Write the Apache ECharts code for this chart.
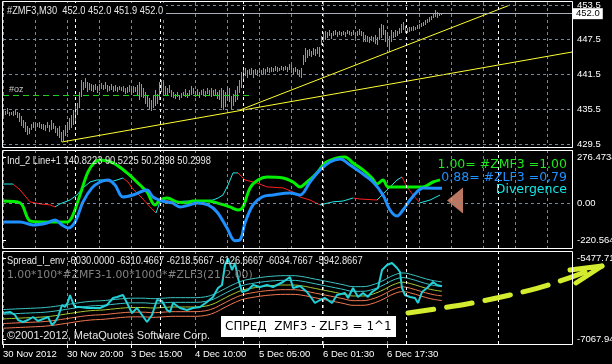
<!DOCTYPE html>
<html><head><meta charset="utf-8">
<script src="https://cdn.jsdelivr.net/npm/echarts@6/dist/echarts.min.js"></script>
<style>html,body{margin:0;padding:0;background:#000;}#c{width:612px;height:364px;}</style>
</head><body><div id="c"></div>
<script>
// ================= DATA =================
const timeLabels = ["30 Nov 2012","30 Nov 20:00","3 Dec 15:00","4 Dec 10:00","5 Dec 05:00","6 Dec 01:30","6 Dec 17:30"];
const timeLabelPos = [0,32,64,96,128,160,192];          // bar index of each time label
const daySeparators = [36,78.5,120,159.5,201.5,247.5];  // bar index of period separators

// main panel (#ZMF3, M30) – high / low per bar
const barHigh = [
435.2,435.2,435.7,435.0,435.0,435.2,435.4,435.0,434.9,434.3,
433.6,433.3,432.6,432.3,433.0,433.3,433.0,433.1,433.3,433.0,
433.0,432.8,433.3,432.8,433.6,433.1,432.6,432.3,432.6,431.6,
431.9,432.8,433.3,434.0,434.5,435.4,436.2,436.6,438.5,440.6,
440.2,440.9,440.2,440.0,439.9,439.7,439.9,439.5,439.9,440.0,
439.7,440.2,439.7,439.5,439.9,439.5,439.7,439.3,439.5,439.3,
439.5,439.2,439.3,439.7,439.2,439.5,439.3,439.7,440.2,439.9,
439.2,438.5,438.0,437.4,437.1,438.0,438.8,438.1,440.2,440.6,
440.2,439.5,439.2,439.7,438.8,438.5,438.1,438.5,438.0,438.3,
438.5,439.0,438.3,438.8,439.5,439.2,438.7,439.0,438.5,438.8,
439.0,438.7,439.2,438.8,439.2,438.8,439.0,438.5,438.8,439.2,
438.8,438.5,439.3,439.2,437.8,438.1,438.8,439.5,440.6,441.9,
442.5,442.6,442.3,442.5,442.6,442.3,442.5,442.3,442.6,442.3,
442.6,442.5,442.8,442.6,442.8,442.6,443.0,442.8,442.6,443.0,
442.8,443.0,442.8,443.3,443.1,442.6,442.8,442.5,442.3,442.6,
444.9,446.1,445.7,445.9,445.6,446.1,445.9,446.3,446.3,448.2,
448.7,449.0,448.8,449.2,448.7,449.0,449.2,448.8,449.0,448.8,
449.0,448.8,449.2,449.0,448.8,449.2,448.7,449.0,449.4,449.0,
448.8,448.3,448.2,448.0,448.2,448.0,448.3,448.0,449.5,450.2,
450.0,449.2,448.8,448.1,449.2,448.8,449.2,449.0,449.5,450.2,
450.6,449.9,449.5,449.7,449.7,449.9,449.7,450.1,450.2,450.4,
450.6,450.9,451.1,451.4,451.6,452.1,452.6,452.3,452.2,452.0];
const barLow = [
434.4,434.5,434.7,434.3,434.5,434.4,434.5,434.0,433.3,432.6,
432.3,431.6,431.1,431.2,431.9,432.3,431.7,432.5,432.3,432.1,
431.9,431.7,432.3,431.6,431.9,432.1,431.4,430.9,430.5,429.85,
430.0,430.9,431.4,431.9,432.3,432.8,433.3,434.5,435.7,437.6,
438.8,439.2,438.5,438.8,438.7,438.5,438.8,438.3,438.7,439.0,
438.8,439.0,438.5,438.7,438.8,438.5,438.7,438.5,438.8,438.7,
438.5,438.1,438.3,438.5,438.0,438.3,438.5,437.8,437.1,437.6,
437.4,436.4,435.9,435.4,435.2,435.7,436.1,436.4,437.1,438.5,
438.3,438.0,437.8,438.3,437.6,437.4,437.3,437.6,437.1,437.4,
437.8,437.6,437.4,437.8,438.0,438.1,437.6,437.8,437.4,438.0,
437.8,437.6,438.1,437.8,437.6,438.0,437.8,437.3,437.1,435.7,
435.4,435.9,437.1,436.8,435.4,436.1,436.8,437.1,438.3,439.2,
440.6,441.2,440.9,441.6,441.4,440.9,441.6,441.2,441.8,441.4,
441.6,441.4,442.0,441.8,442.0,442.0,442.1,442.0,442.1,442.3,
442.1,442.3,442.0,442.3,441.8,441.4,442.0,441.6,441.1,440.9,
443.1,443.6,444.35,444.7,444.5,444.9,444.7,445.0,444.5,446.6,
447.1,447.5,447.8,448.2,447.6,448.2,448.3,448.0,448.3,448.2,
448.3,448.0,448.5,448.3,448.2,448.3,447.8,448.2,448.3,448.2,
447.1,447.1,447.1,446.9,447.3,447.1,446.8,446.6,447.5,447.8,
448.3,447.1,446.3,445.4,447.1,447.8,448.0,448.2,448.5,448.7,
449.2,448.7,448.7,448.8,449.0,449.0,449.2,449.4,449.5,449.7,
449.9,450.1,450.4,450.6,450.9,451.3,451.4,451.3,451.6,451.9];
const priceTicks = [429.5,435.5,441.5,447.5,453.5];
const bidPrice = 452.0;
const trendA = [[118.5,435.37],[253.5,453.5]];
const trendB = [[29.5,429.85],[284.5,445.38]];
const greenDash = [[0,437.96],[124.5,437.96]];

// panel 2 (Ind_2)
const greenX = [0,8.5,13.5,18.5,23.5,32,34.5,38.5,42.5,46,48.5,55,62,68.5,72,76,78.5,82,87,92,95,102,107,113.5,117.5,120,123.5,127.5,132,140,145,148.5,152,157,161,167,171,175,180,184.5,187,190,192.5,197,202,210,215,218.5];
const greenV = [15,4,-103,-109,-109,-109,-80,51,188,247,259,241,182,110,69,-8,21,33,10,4,15,15,4,-20,-38,-20,93,140,158,152,128,99,128,182,241,271,276.47,241,200,152,116,140,99,99,99,99,128,140.82];
const blueX = [0,8.5,15,22,26,29.5,32.5,36,40,44.5,48.5,52.5,56,60,65,72,75,79.5,84.5,88.5,93.5,97,102.5,107,112,116,118.5,121,125,129.5,135,143.5,148.5,153.5,158.5,163.5,168.5,173.5,178.5,185,190,193.5,197,200,203.5,207,210,219.5];
const blueV = [-109,-109,-127,-115,-97,-127,-145,-109,10,93,128,140,110,39,51,81,39,15,4,-20,-8,4,-8,-50,-145,-220.56,-216,-115,-8,39,51,63,51,128,200,247,265,229,188,128,51,-38,-74,-38,21,69,93,90.52];
const divX = [0,5,8.5,13.5,18.5,23.5,26,28.5,33.5,37,40,43.5,47,50,53.5,57,60,62.5,64.5,69.5,73.5,76.5,78.5,81,85,92,98.5,105,107.5,110,112.5,115,117.5,121,127,132,140,145,148.5,153.5,158.5,165,170,175,178.5,187,192,197,199.5,202,205,208.5,213.5,218.5];
const divV = [116,116,81,10,-2,-8,-20,-2,21,51,93,128,140,140,128,140,152,128,93,33,-20,-56,10,21,10,15,15,21,33,51,110,182,182,140,122,99,93,69,39,21,-8,10,15,33,27,21,81,140,158,99,51,4,21,50.30];
const p2Ticks = [276.4734,0,-220.5643];
const pairLabels = ["1.00= #ZMF3 =1.00","0.88= #ZLF3 =0,79","Divergence"];
const arrowMark = [[226,18]];

// panel 3 (Spread_I_env)
const spreadX = [0,3.5,6,7.5,10,12.5,15,17.5,20,22.5,24.5,26,27.5,29.5,31,32.5,33.5,35,36,38.5,42,45,48.5,52,55,57,60,62,64.5,67,69.5,72,74.5,77,79.5,82,83.5,85,88.5,92,95,98.5,102,105,107.5,109.5,111,112.5,114.5,116,117.5,119.5,122.5,125,128.5,132,135,140,143.5,145,148.5,152,156,158.5,161,164.5,167,171,172.5,175,177.5,180,182.5,184.5,187.5,189.5,192,194.5,197,198.5,199.5,201,203.5,206,207.5,209.5,212,215,217,219.5];
const spreadV = [-6555,-6535,-6595,-6693,-6733,-6693,-6634,-6713,-6674,-6634,-6792,-6733,-6634,-6398,-6437,-6339,-6201,-6358,-6437,-6437,-6457,-6457,-6457,-6398,-6260,-6240,-6201,-6358,-6555,-6457,-6595,-6733,-6595,-6299,-6319,-6496,-6535,-6358,-6457,-6496,-6457,-6437,-6339,-6240,-6063,-6004,-5610,-5477.71,-5708,-5570,-5866,-6141,-6102,-6004,-6043,-6004,-6043,-5945,-5846,-6063,-6024,-6141,-6358,-6299,-6260,-6358,-6201,-6161,-6260,-6063,-6240,-6161,-6240,-6141,-6063,-5708,-5610,-5570,-5669,-5748,-6063,-6201,-6240,-6260,-6358,-6141,-6063,-5945,-6004,-6030];
const envX = [0,5,10,15,20,25,30,35,40,45,50,55,60,65,70,75,80,85,90,95,100,105,110,115,120,125,130,135,140,145,150,155,160,165,170,175,180,185,190,195,200,205,210,215,219.5];
const envMid = [-6672,-6662,-6653,-6644,-6634,-6614,-6585,-6555,-6526,-6506,-6496,-6476,-6457,-6447,-6447,-6457,-6447,-6437,-6437,-6437,-6427,-6378,-6280,-6181,-6102,-6063,-6033,-6014,-6004,-6004,-6024,-6063,-6102,-6141,-6181,-6220,-6220,-6181,-6102,-6000,-5950,-5990,-6050,-6100,-6126.67];
const envOffsets = [183.8,91.9,0,-91.9,-183.8];
const envColors = ['#3cc4c4','#3cc4c4','#a8c832','#f07850','#f07850'];
const p3Ticks = [-5477.71,-7067.94];
const annotArrow = [[202.5,-6555],[232,-6378],[253.5,-6201],[272.5,-6004],[299.5,-5630]];
const annotHead = [[283.5,-5708],[299.5,-5630],[286.5,-5964]];

// ================= CHART =================
const SANS = "'Liberation Sans',Arial,sans-serif";
const DV = "'DejaVu Sans',sans-serif";
const GRIDC = '#778899';
const chart = echarts.init(document.getElementById('c'), null, {renderer:'canvas'});

const gridDefs = [
  {left:3, right:40, top:2, height:146},
  {left:3, right:40, top:150, height:98},
  {left:3, right:40, top:251, height:93}
];
const xAxes = gridDefs.map((g,i)=>({
  type:'value', gridIndex:i, min:0, max:284.5, interval:16,
  axisLine:{show:false},
  axisTick: i===2 ? {show:true, customValues:timeLabelPos, length:4, lineStyle:{color:'#fff'}} : {show:false},
  axisLabel: i===2 ? {show:true, customValues:timeLabelPos, color:'#fff', fontFamily:SANS, fontSize:9.5, align:'left', margin:5,
     formatter:(v)=>{const k=timeLabelPos.indexOf(v); return k>=0?timeLabels[k]:'';}} : {show:false},
  splitLine:{show:true, lineStyle:{color:GRIDC, type:[3,3], width:1}}
}));
const yLab = {color:'#fff', fontFamily:SANS, fontSize:9.5, margin:5};
const yAxes = [
  {type:'value', gridIndex:0, position:'right', min:428.809, max:454.018, scale:true,
   axisLine:{show:false}, splitLine:{show:false},
   axisTick:{show:true, customValues:priceTicks, length:3, lineStyle:{color:'#fff'}},
   axisLabel:Object.assign({customValues:priceTicks, formatter:v=>v.toFixed(1)}, yLab)},
  {type:'value', gridIndex:1, position:'right', min:-263.9, max:318.04, scale:true,
   axisLine:{show:false}, splitLine:{show:false},
   axisTick:{show:true, customValues:p2Ticks, length:3, lineStyle:{color:'#fff'}},
   axisLabel:Object.assign({customValues:p2Ticks, formatter:v=>v===0?'0.00':v.toFixed(4)}, yLab)},
  {type:'value', gridIndex:2, position:'right', min:-7166.0, max:-5333.9, scale:true,
   axisLine:{show:false}, splitLine:{show:false},
   axisTick:{show:true, customValues:p3Ticks, length:3, lineStyle:{color:'#fff'}},
   axisLabel:Object.assign({customValues:p3Ticks, formatter:v=>v.toFixed(4)}, yLab)}
];

const sepLines = daySeparators.map(v=>({xAxis:v, lineStyle:{color:'#fff', type:[3,3], width:1}}));
const mlBase = {silent:true, symbol:'none', animation:false, label:{show:false}};

const series = [];
// bars
series.push({
  type:'custom', xAxisIndex:0, yAxisIndex:0, clip:true, animation:false,
  itemStyle:{color:'#00ff00'},
  data: barLow.map((lo,i)=>[i, lo, barHigh[i]]),
  renderItem:(params, api)=>{
    const a = api.coord([api.value(0), api.value(1)]);
    const b = api.coord([api.value(0), api.value(2)]);
    const x = Math.round(a[0]);
    const yT = Math.round(b[1]), yB = Math.round(a[1]);
    return {type:'rect', shape:{x:x, y:yT, width:1, height:Math.max(1, yB-yT)}, style:{fill:'#00ff00', stroke:null}};
  }
});
series.push({
  type:'line', xAxisIndex:0, yAxisIndex:0, data:trendA, symbol:'none', animation:false,
  lineStyle:{color:'#ffff30', width:1},
  markLine: Object.assign({}, mlBase, {data: [
    ...priceTicks.map(v=>({yAxis:v, lineStyle:{color:GRIDC, type:[3,3], width:1}})),
    ...sepLines,
    {yAxis:bidPrice, lineStyle:{color:'#a8b0bc', type:'solid', width:1},
     label:{show:true, position:'end', distance:1, formatter:'452.0', backgroundColor:'#fff', color:'#000',
            fontFamily:SANS, fontSize:9.5, padding:[1,3,0,3]}},
    [{coord:greenDash[0], lineStyle:{color:'#22cc22', type:[6,4], width:1}}, {coord:greenDash[1]}]
  ]})
});
series.push({type:'line', xAxisIndex:0, yAxisIndex:0, data:trendB, symbol:'none', animation:false, lineStyle:{color:'#ffff30', width:1}});

// panel 2
series.push({
  type:'line', xAxisIndex:1, yAxisIndex:1, data:greenX.map((x,k)=>[x,greenV[k]]), symbol:'none', smooth:0.35, animation:false,
  lineStyle:{color:'#00f000', width:3},
  markLine:Object.assign({}, mlBase, {data:[{yAxis:0, lineStyle:{color:GRIDC, type:[3,3], width:1}}, ...sepLines]})
});
series.push({
  type:'line', xAxisIndex:1, yAxisIndex:1, data:blueX.map((x,k)=>[x,blueV[k]]), symbol:'none', smooth:0.35, animation:false,
  lineStyle:{color:'#1e90ff', width:3}
});
series.push({
  type:'custom', xAxisIndex:1, yAxisIndex:1, clip:true, animation:false,
  data: divX.slice(0,-1).map((x,k)=>[x, divV[k], divX[k+1], divV[k+1]]),
  renderItem:(params, api)=>{
    const a = api.coord([api.value(0), api.value(1)]);
    const b = api.coord([api.value(2), api.value(3)]);
    const up = api.value(3) >= api.value(1);
    return {type:'line', shape:{x1:a[0], y1:a[1], x2:b[0], y2:b[1]}, style:{stroke: up ? '#20e8e8' : '#ff2020', lineWidth:1}};
  }
});
series.push({
  type:'scatter', xAxisIndex:1, yAxisIndex:1, data:arrowMark, symbol:'triangle', symbolSize:[26,16], symbolRotate:90,
  itemStyle:{color:'#e9967a'}, animation:false, silent:true
});

// panel 3
envOffsets.forEach((off,j)=>{
  series.push({
    type:'line', xAxisIndex:2, yAxisIndex:2, data:envX.map((x,k)=>[x, envMid[k]+off]), symbol:'none', smooth:0.4, animation:false,
    lineStyle:{color:envColors[j], width:1}
  });
});
series.push({
  type:'line', xAxisIndex:2, yAxisIndex:2, data:spreadX.map((x,k)=>[x,spreadV[k]]), symbol:'none', animation:false,
  lineStyle:{color:'#22d0d8', width:2},
  markLine:Object.assign({}, mlBase, {data:[...sepLines]})
});

const txt = (id, text, x, y, color, font, align, sx) => ({
  id:id, type:'text', silent:true, z:20, x:x, y:y, scaleX: sx||1,
  style:{text:text, x:0, y:0, fill:color, font:font, textAlign:align||'left', textVerticalAlign:'middle'}
});
const NS = 0.845;
const border = (id, y0, y1) => ({id:id, type:'rect', silent:true, z:18,
  shape:{x:2.5, y:y0+0.5, width:570, height:y1-y0}, style:{fill:null, stroke:'#fff', lineWidth:1}});
const graphics = [
  border('b1', 1, 147), border('b2', 150, 248), border('b3', 251, 344),
  {id:'hdrbg', type:'rect', shape:{x:4, y:3, width:162, height:14}, style:{fill:'#000'}, z:19, silent:true},
  txt('t1','#ZMF3,M30  452.0 452.0 451.9 452.0', 7, 10.5, '#e6e6e6', "11px "+SANS, 'left', NS),
  txt('t0','#oz', 9, 90, '#c8c8c8', "9px "+SANS, 'left'),
  txt('t2','Ind_2 Line+1 140.8223 90.5225 50.2998 50.2998', 7, 161, '#e6e6e6', "11px "+SANS, 'left', NS),
  txt('t3',pairLabels[0], 567, 164.5, '#1ee81e', "12.5px "+DV, 'right'),
  txt('t4',pairLabels[1], 567, 177.5, '#1e90ff', "12.5px "+DV, 'right'),
  txt('t5',pairLabels[2], 567, 189.5, '#10e8e8', "12.5px "+DV, 'right'),
  txt('t6','Spread_I_env -6030.0000 -6310.4667 -6218.5667 -6126.6667 -6034.7667 -5942.8667', 7, 261, '#e6e6e6', "11px "+SANS, 'left', NS),
  txt('t7','1.00*100*#ZMF3-1.00*1000*#ZLF3(21,2.00)', 7, 275.5, '#808080', "10.8px "+DV),
  txt('t8','\u00A92001-2012, MetaQuotes Software Corp.', 7, 336, '#e6e6e6', "11px "+SANS),
  {id:'boxbg', type:'rect', shape:{x:221, y:316, width:175, height:21}, style:{fill:'#fff'}, z:19, silent:true},
  txt('t9','\u0421\u041F\u0420\u0415\u0414  ZMF3 - ZLF3 = 1^1', 225, 326.5, '#000', "12px "+DV)
];

const option = {
  backgroundColor:'#000',
  animation:false,
  grid: gridDefs.map(g=>Object.assign({show:false, outerBoundsMode:'none', containLabel:false}, g)),
  xAxis:xAxes, yAxis:yAxes, series:series,
  graphic:graphics
};
chart.setOption(option);

// hand-drawn annotation arrow, positioned through the panel-3 scales
const toPx = p => chart.convertToPixel({gridIndex:2}, p);
const shaft = annotArrow.map(toPx);
const head = annotHead.map(toPx);
chart.setOption({graphic: graphics.concat([
  {id:'arrShaft', type:'polyline', silent:true, z:15, shape:{points:shaft, smooth:0.3},
   style:{stroke:'#d4ec30', lineWidth:5, lineCap:'round', lineDash:[26,13], fill:null}},
  {id:'arrHead', type:'polyline', silent:true, z:15, shape:{points:head},
   style:{stroke:'#d4ec30', lineWidth:5, lineCap:'round', lineJoin:'round', fill:null}}
])});
</script></body></html>
